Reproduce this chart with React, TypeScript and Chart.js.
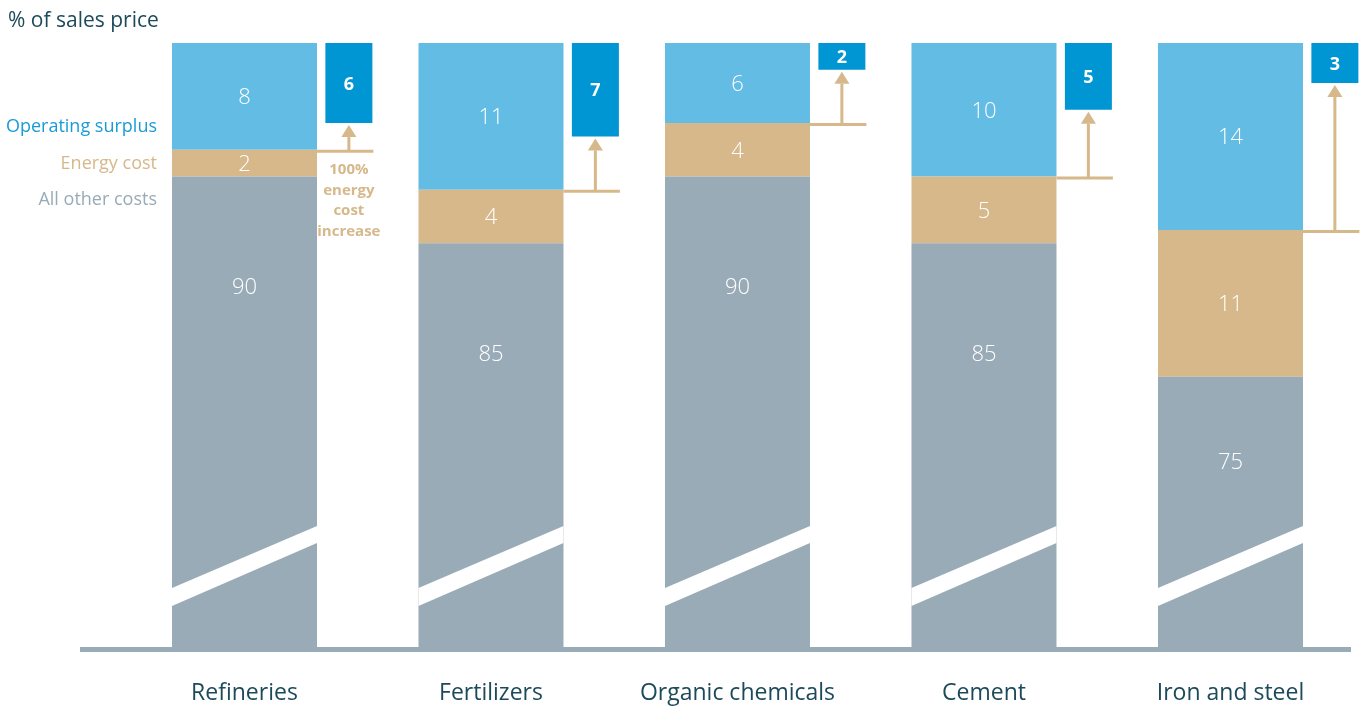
import React, { useEffect, useRef } from "react";
import { Chart, registerables } from "chart.js";

Chart.register(...registerables);

// ---------- data ----------
const categories = ["Refineries", "Fertilizers", "Organic chemicals", "Cement", "Iron and steel"];
const otherCosts = [90, 85, 90, 85, 75];
const energyCost = [2, 4, 4, 5, 11];
const operatingSurplus = [8, 11, 6, 10, 14];
const surplusAfterIncrease = [6, 7, 2, 5, 3];
const seriesNames = ["All other costs", "Energy cost", "Operating surplus"];
const afterName = "Operating surplus after 100% energy cost increase";
const yAxisTitle = "% of sales price";
const noteLines = ["100%", "energy", "cost", "increase"];
const TOTAL = 100;

// ---------- styling / geometry ----------
const FONT = '"Open Sans", "Noto Sans", sans-serif';
const GRAY = "#99abb7";
const TAN = "#d6b88a";
const LIGHT_BLUE = "#63bce3";
const DARK_BLUE = "#0095d3";
const LEGEND_BLUE = "#1a9bd7";
const TEXT_DARK = "#1c4a5a";
const seriesColors = [GRAY, TAN, LIGHT_BLUE];
const legendColors = [GRAY, TAN, LEGEND_BLUE];

const X_MIN = -0.6673;
const X_MAX = 4.4889;
const BOX_SHIFT = 0.4235;
const Y_MIN = 54.76;

const overlay = {
  id: "overlay",
  afterDatasetsDraw(chart: any) {
    const { ctx, chartArea: a } = chart;
    const gray = chart.getDatasetMeta(0).data;
    const energy = chart.getDatasetMeta(1).data;
    const surplus = chart.getDatasetMeta(2).data;
    const boxes = chart.getDatasetMeta(3).data;
    ctx.save();

    // axis break stripes
    ctx.fillStyle = "#ffffff";
    gray.forEach((el: any) => {
      const l = el.x - el.width / 2;
      const r = el.x + el.width / 2;
      const b = a.bottom;
      ctx.beginPath();
      ctx.moveTo(l, b - 59);
      ctx.lineTo(r, b - 121);
      ctx.lineTo(r, b - 104);
      ctx.lineTo(l, b - 41);
      ctx.closePath();
      ctx.fill();
    });

    // axis line
    ctx.fillStyle = GRAY;
    ctx.fillRect(a.left, a.bottom, a.right - a.left, 5);

    const centerText = (txt: string, x: number, cy: number, size: number) => {
      ctx.fillText(txt, x, cy + size * 0.36);
    };

    // segment labels
    ctx.fillStyle = "#ffffff";
    ctx.textAlign = "center";
    ctx.textBaseline = "alphabetic";
    ctx.font = `300 22px ${FONT}`;
    const metasData = [gray, energy, surplus];
    const values = [otherCosts, energyCost, operatingSurplus];
    metasData.forEach((els: any[], d: number) => {
      els.forEach((el: any, i: number) => {
        const top = Math.min(el.y, el.base);
        const bot = Math.min(Math.max(el.y, el.base), a.bottom);
        let cy = (top + bot) / 2;
        if (d === 0) cy = Math.min(top + 110, (top + (a.bottom - 102)) / 2);
        centerText(String(values[d][i]), el.x, cy, 22);
      });
    });

    // box labels
    ctx.font = `bold 18px ${FONT}`;
    boxes.forEach((el: any, i: number) => {
      const top = Math.min(el.y, el.base);
      const bot = Math.max(el.y, el.base);
      centerText(String(surplusAfterIncrease[i]), el.x, (top + bot) / 2, 18);
    });

    // lines and arrows
    ctx.strokeStyle = TAN;
    ctx.fillStyle = TAN;
    ctx.lineWidth = 3;
    boxes.forEach((bx: any, i: number) => {
      const s = surplus[i];
      const lineY = Math.max(s.y, s.base) + 1.5;
      const barRight = gray[i].x + gray[i].width / 2;
      const boxRight = bx.x + bx.width / 2 + 1;
      ctx.beginPath();
      ctx.moveTo(barRight, lineY);
      ctx.lineTo(boxRight, lineY);
      ctx.stroke();
      const tipY = Math.max(bx.y, bx.base) + 2;
      const headH = 12;
      ctx.beginPath();
      ctx.moveTo(bx.x, lineY);
      ctx.lineTo(bx.x, tipY + headH);
      ctx.stroke();
      ctx.beginPath();
      ctx.moveTo(bx.x, tipY);
      ctx.lineTo(bx.x - 7.5, tipY + headH);
      ctx.lineTo(bx.x + 7.5, tipY + headH);
      ctx.closePath();
      ctx.fill();
    });

    // note under the first arrow
    ctx.font = `bold 15px ${FONT}`;
    ctx.fillStyle = TAN;
    const s0 = surplus[0];
    const noteTop = Math.max(s0.y, s0.base) + 19;
    noteLines.forEach((t, k) => centerText(t, boxes[0].x, noteTop + k * 20.5, 15));

    // left legend
    ctx.textAlign = "right";
    ctx.font = `18px ${FONT}`;
    const legendOrder = [2, 1, 0];
    legendOrder.forEach((d, k) => {
      ctx.fillStyle = legendColors[d];
      centerText(seriesNames[d], a.left + 77, a.top + 83 + k * 36.5, 18);
    });

    // title
    ctx.textAlign = "left";
    ctx.font = `21px ${FONT}`;
    ctx.fillStyle = TEXT_DARK;
    centerText(yAxisTitle, 8, 19, 21);

    ctx.restore();
  },
};

export default function App() {
  const ref = useRef<HTMLCanvasElement>(null);
  useEffect(() => {
    document.body.style.margin = "0";
    const mainValues = [otherCosts, energyCost, operatingSurplus];
    const chart = new Chart(ref.current as HTMLCanvasElement, {
      type: "bar",
      data: {
        datasets: [
          ...mainValues.map((arr, d) => ({
            label: seriesNames[d],
            data: arr.map((v, i) => ({ x: i, y: v })),
            backgroundColor: seriesColors[d],
            stack: "main",
            xAxisID: "x",
            yAxisID: "y",
            grouped: false,
            categoryPercentage: 1,
            barPercentage: 145 / 246.5,
            borderWidth: 0,
            order: 1,
          })),
          {
            label: afterName,
            data: surplusAfterIncrease.map((v, i) => ({ x: i, y: [TOTAL - v, TOTAL] })),
            backgroundColor: DARK_BLUE,
            stack: "after",
            xAxisID: "x2",
            yAxisID: "y",
            grouped: false,
            categoryPercentage: 1,
            barPercentage: 47 / 246.5,
            borderWidth: 0,
            clip: false,
            order: 0,
          },
        ] as any,
      },
      options: {
        animation: false,
        responsive: false,
        layout: { padding: { top: 43, left: 80, right: 13, bottom: 0 } },
        plugins: {
          legend: { display: false },
          tooltip: { enabled: false },
          title: { display: false },
        },
        scales: {
          x: {
            type: "linear",
            min: X_MIN,
            max: X_MAX,
            offset: false,
            stacked: true,
            grid: { display: false, drawTicks: false },
            border: { display: false },
            ticks: {
              stepSize: 1,
              includeBounds: false,
              autoSkip: false,
              maxRotation: 0,
              minRotation: 0,
              padding: 33,
              color: TEXT_DARK,
              font: { family: FONT, size: 23 },
              callback: (v: any) => categories[v] ?? "",
            },
            afterFit: (s: any) => {
              s.height = 59;
            },
          },
          x2: {
            type: "linear",
            axis: "x",
            position: "bottom",
            display: false,
            min: X_MIN - BOX_SHIFT,
            max: X_MAX - BOX_SHIFT,
            offset: false,
            ticks: { stepSize: 1, includeBounds: false },
          },
          y: {
            type: "linear",
            display: false,
            stacked: true,
            min: Y_MIN,
            max: TOTAL,
          },
        } as any,
      },
      plugins: [overlay],
    });
    return () => chart.destroy();
  }, []);
  return (
    <div style={{ width: 1364, height: 706, position: "relative" }}>
      <canvas ref={ref} width={1364} height={706} style={{ display: "block" }} />
    </div>
  );
}
